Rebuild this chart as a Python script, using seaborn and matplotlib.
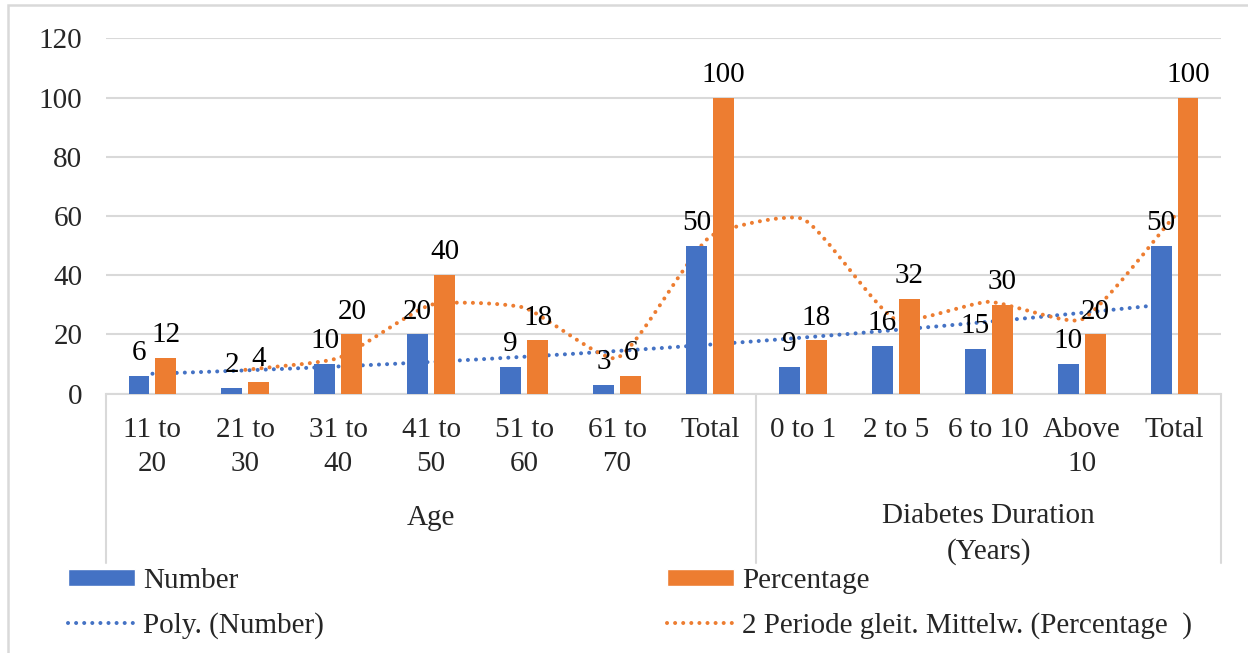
import numpy as np
import pandas as pd
import matplotlib
matplotlib.use('Agg')
import matplotlib.pyplot as plt
from matplotlib.path import Path
from matplotlib.patches import PathPatch, Patch, Rectangle
from matplotlib.lines import Line2D
import seaborn as sns

# Chart data
categories = ['11 to\n20', '21 to\n30', '31 to\n40', '41 to\n50', '51 to\n60', '61 to\n70', 'Total',
              '0 to 1', '2 to 5', '6 to 10', 'Above\n10', 'Total']
groups = ['Age', 'Diabetes Duration\n(Years)']
group_sizes = [7, 5]
number = [6, 2, 10, 20, 9, 3, 50, 9, 16, 15, 10, 50]
percentage = [12, 4, 20, 40, 18, 6, 100, 18, 32, 30, 20, 100]

blue = '#4472C4'
orange = '#ED7D31'
grid_col = '#D9D9D9'
fs = 21

sns.set_theme(style='white')
plt.rcParams['font.family'] = ['Liberation Serif', 'DejaVu Serif']

pos = list(range(len(categories)))
df = pd.DataFrame({'pos': pos, 'Number': number, 'Percentage': percentage})
long_df = df.melt(id_vars='pos', var_name='series', value_name='value')

fig = plt.figure(figsize=(12.48, 6.53), dpi=100)
ax_l, ax_r, ax_t, ax_b = 106, 1221, 38.5, 393.5
ax = fig.add_axes([ax_l / 1248, 1 - ax_b / 653, (ax_r - ax_l) / 1248, (ax_b - ax_t) / 653])

sns.barplot(data=long_df, x='pos', y='value', hue='series', palette=[blue, orange],
            width=0.58, gap=0.224, saturation=1, legend=False, ax=ax)
for p in ax.patches:
    p.set_zorder(3)
    p.set_edgecolor('none')

for cont in ax.containers:
    ax.bar_label(cont, padding=7, fontsize=fs, color='black', zorder=4)

# pixel scale of one unit, used to weight the smoothing like Excel does
sx = (ax_r - ax_l) / len(categories)
sy = (ax_b - ax_t) / 120


def smooth_path(xs, ys, k=0.18):
    pts = np.column_stack([xs, ys]).astype(float)
    scale = np.array([sx, sy])
    n = len(pts)

    def seg(a, b):
        return np.hypot(*((pts[b] - pts[a]) * scale))

    verts = [pts[0]]
    codes = [Path.MOVETO]
    for i in range(n - 1):
        i0 = max(i - 1, 0)
        i3 = min(i + 2, n - 1)
        l01, l12, l23 = seg(i0, i), seg(i, i + 1), seg(i + 1, i3)
        c1 = pts[i] + (pts[i + 1] - pts[i0]) * k * l12 / max(l01 + l12, 1e-9)
        c2 = pts[i + 1] - (pts[i3] - pts[i]) * k * l12 / max(l12 + l23, 1e-9)
        verts += [c1, c2, pts[i + 1]]
        codes += [Path.CURVE4] * 3
    return Path(verts, codes)


dots = (0, (0.01, 2.0))
lw = 2.9

# Polynomial trendline (order 2) for Number
coef = np.polyfit(pos, number, 2)
poly_vals = np.polyval(coef, pos)
ax.add_patch(PathPatch(smooth_path(pos, poly_vals, k=0.33), fill=False, edgecolor=blue, lw=lw,
                       linestyle=dots, capstyle='round', zorder=2))

# 2 period moving average for Percentage
ma = pd.Series(percentage).rolling(2).mean()
ax.add_patch(PathPatch(smooth_path(pos[1:], ma.values[1:]), fill=False, edgecolor=orange, lw=lw,
                       linestyle=dots, capstyle='round', zorder=2))

ax.set_xlim(-0.5, len(categories) - 0.5)
ax.set_ylim(0, 120)
ax.set_yticks(range(0, 121, 20))
ax.yaxis.grid(True, color=grid_col, lw=1.5)
ax.set_axisbelow(True)
ax.set_xticks(pos)
ax.set_xticklabels(categories, fontsize=fs, linespacing=1.4)
ax.tick_params(axis='x', length=0, pad=17)
ax.tick_params(axis='y', length=0, pad=17, labelsize=fs)
ax.set_xlabel('')
ax.set_ylabel('')
for s in ['top', 'left', 'right']:
    ax.spines[s].set_visible(False)
ax.spines['bottom'].set_color(grid_col)
ax.spines['bottom'].set_linewidth(1.5)

# Group labels and separators below the axis
trans = ax.get_xaxis_transform()
start = -0.5
ax.plot([start, start], [0, -0.477], transform=trans, color=grid_col, lw=1.5, clip_on=False)
for name, size, ylab in zip(groups, group_sizes, [-0.35, -0.395]):
    end = start + size
    ax.plot([end, end], [0, -0.477], transform=trans, color=grid_col, lw=1.5, clip_on=False)
    ax.text((start + end) / 2, ylab, name, transform=trans, ha='center', va='center',
            fontsize=fs, linespacing=1.45)
    start = end

# Legend
handles = [Patch(facecolor=blue), Line2D([], [], color=blue, lw=lw, linestyle=dots, dash_capstyle='round'),
           Patch(facecolor=orange), Line2D([], [], color=orange, lw=lw, linestyle=dots, dash_capstyle='round')]
labels = ['Number', 'Poly. (Number)', 'Percentage', '2 Periode gleit. Mittelw. (Percentage  )']
fig.legend(handles, labels, ncol=2, loc='upper left', bbox_to_anchor=(68 / 1248, 1 - 568 / 653),
           frameon=False, fontsize=fs, handlelength=2.3, handleheight=0.5, handletextpad=0.28,
           columnspacing=11.75, borderpad=0, borderaxespad=0, labelspacing=0.62)

# Outer chart border (cut off on the right and bottom)
fig.patches.append(Rectangle((8 / 1248, -0.05), 1.1, 1 - 5 / 653 + 0.05, transform=fig.transFigure,
                             fill=False, edgecolor=grid_col, lw=1.8))

fig.savefig('out.png', dpi=100)
